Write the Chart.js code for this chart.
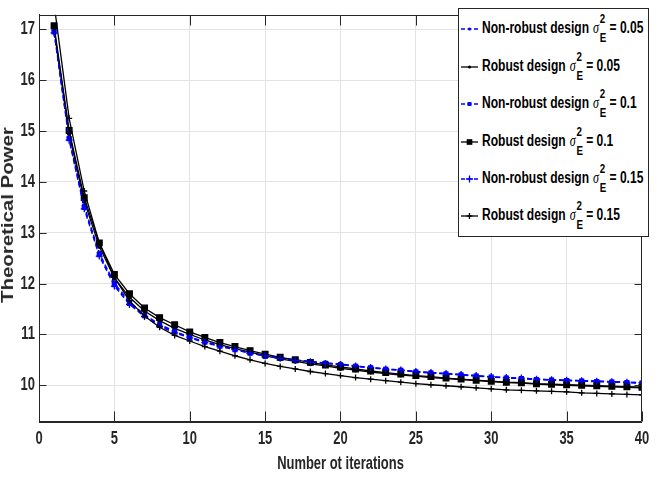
<!DOCTYPE html>
<html>
<head>
<meta charset="utf-8">
<script src="https://cdn.jsdelivr.net/npm/chart.js@4.4.1/dist/chart.umd.min.js"></script>
<style>
html,body{margin:0;padding:0;background:#fff;}
#wrap{position:relative;width:658px;height:478px;overflow:hidden;}
#c{position:absolute;left:0;top:0;}
.ytitle{position:absolute;left:8px;top:215px;transform:translate(-50%,-50%) rotate(-90deg) scaleX(1.28);
  font:bold 16px 'Liberation Sans',Arial,sans-serif;line-height:16px;white-space:nowrap;color:#262626;}
#legend{position:absolute;left:458px;top:8px;width:191px;height:229px;box-sizing:border-box;border:1px solid #262626;background:#fff;}
.row{position:absolute;left:2px;height:20px;width:400px;white-space:nowrap;}
.row svg{position:absolute;left:0;top:0;display:block;}
.txt{position:absolute;left:21px;top:0;height:20px;line-height:20px;transform-origin:0 50%;
  font:bold 16px 'Liberation Sans',Arial,sans-serif;color:#000;white-space:nowrap;}
.sig{font:italic 16px 'Liberation Serif',serif;margin-left:1px;}
.ss{display:inline-block;position:relative;width:10px;height:20px;vertical-align:top;}
.ss .sp{position:absolute;left:1px;top:-8px;font-size:13px;line-height:16px;}
.ss .sb{position:absolute;left:1px;top:11px;font-size:13px;line-height:16px;}
.eq{margin-left:4px;}
</style>
</head>
<body>
<div id="wrap">
  <canvas id="c" width="658" height="478"></canvas>
  <div class="ytitle" id="ytitle">Theoretical Power</div>
  <div id="legend"></div>
</div>
<script>
// ---- data ----
const iterations = [1,2,3,4,5,6,7,8,9,10,11,12,13,14,15,16,17,18,19,20,21,22,23,24,25,26,27,28,29,30,31,32,33,34,35,36,37,38,39,40];
const nonRobust005 = [16.97,14.87,13.53,12.60,12.01,11.64,11.39,11.20,11.06,10.95,10.86,10.78,10.71,10.64,10.58,10.54,10.50,10.47,10.44,10.42,10.38,10.35,10.32,10.30,10.27,10.25,10.23,10.21,10.19,10.16,10.15,10.14,10.12,10.11,10.10,10.09,10.08,10.07,10.06,10.05];
const robust005    = [17.02,14.95,13.62,12.73,12.11,11.73,11.46,11.27,11.12,11.00,10.89,10.80,10.72,10.65,10.58,10.52,10.47,10.42,10.38,10.33,10.30,10.26,10.23,10.20,10.18,10.15,10.13,10.11,10.09,10.07,10.05,10.04,10.02,10.01,10.00,9.99,9.98,9.97,9.96,9.95];
const nonRobust010 = [16.95,14.85,13.50,12.57,11.98,11.61,11.37,11.18,11.05,10.94,10.85,10.77,10.70,10.63,10.57,10.53,10.49,10.46,10.43,10.40,10.37,10.34,10.31,10.29,10.26,10.24,10.22,10.20,10.18,10.16,10.14,10.13,10.11,10.10,10.09,10.08,10.07,10.06,10.05,10.04];
const robust010    = [17.07,15.01,13.69,12.80,12.18,11.80,11.52,11.33,11.19,11.05,10.94,10.84,10.76,10.68,10.61,10.55,10.50,10.45,10.40,10.36,10.32,10.28,10.25,10.22,10.19,10.17,10.14,10.12,10.10,10.08,10.06,10.05,10.03,10.02,10.01,10.00,9.99,9.98,9.97,9.96];
const nonRobust015 = [16.93,14.82,13.47,12.54,11.95,11.59,11.35,11.16,11.03,10.93,10.84,10.76,10.70,10.63,10.58,10.53,10.49,10.46,10.43,10.41,10.38,10.35,10.32,10.30,10.27,10.25,10.23,10.21,10.19,10.17,10.15,10.14,10.12,10.11,10.10,10.09,10.08,10.07,10.06,10.05];
const robust015    = [17.50,15.25,13.82,12.80,12.12,11.66,11.36,11.14,10.98,10.87,10.76,10.67,10.58,10.50,10.43,10.37,10.32,10.27,10.23,10.19,10.15,10.12,10.09,10.06,10.03,10.01,9.99,9.97,9.95,9.93,9.91,9.90,9.89,9.88,9.87,9.85,9.84,9.83,9.82,9.81];

const seriesNames  = ['Non-robust design','Robust design','Non-robust design','Robust design','Non-robust design','Robust design'];
const sigmaValues  = ['0.05','0.05','0.1','0.1','0.15','0.15'];
const xTicks = [0,5,10,15,20,25,30,35,40];
const yTicks = [10,11,12,13,14,15,16,17];
const xTitle = 'Number ot iterations';

// ---- styles ----
const BLUE = '#0000ff', BLACK = '#000000';
const styles = [
  {color:BLUE,  dash:[5,3], point:'circle', r:1.8},
  {color:BLACK, dash:[],    point:'circle', r:1.8},
  {color:BLUE,  dash:[5,3], point:'rect',   r:2.8},
  {color:BLACK, dash:[],    point:'rect',   r:4},
  {color:BLUE,  dash:[5,3], point:'cross',  r:3.5},
  {color:BLACK, dash:[],    point:'cross',  r:3}
];
const seriesData = [nonRobust005, robust005, nonRobust010, robust010, nonRobust015, robust015];

const datasets = seriesData.map((vals, i) => ({
  label: seriesNames[i] + ' σE2 = ' + sigmaValues[i],
  data: iterations.map((it, k) => ({x: it, y: vals[k]})),
  borderColor: styles[i].color,
  backgroundColor: styles[i].color,
  borderWidth: 1.3,
  borderDash: styles[i].dash,
  pointStyle: styles[i].point,
  pointRadius: styles[i].r,
  pointBorderWidth: 1.3,
  pointBorderColor: styles[i].color,
  pointBackgroundColor: styles[i].color,
  tension: 0,
  order: -i
}));

const FONT = "'Liberation Sans',Arial,sans-serif";
const AX = '#262626';

// condensed text rendering (the reference uses a narrow face)
const canvas = document.getElementById('c');
const ctx2d = canvas.getContext('2d');
const SX = 0.72;
const origFill = ctx2d.fillText.bind(ctx2d);
ctx2d.fillText = function (t, x, y, mw) {
  this.save();
  this.translate(x, y);
  this.scale(SX, 1);
  if (mw === undefined) origFill(t, 0, 0); else origFill(t, 0, 0, mw / SX);
  this.restore();
};

const boxPlugin = {
  id: 'boxTicks',
  afterDatasetsDraw(chart) {
    const {ctx, chartArea: {left, right, top, bottom}, scales: {x, y}} = chart;
    ctx.save();
    ctx.strokeStyle = AX;
    ctx.lineWidth = 1;
    ctx.setLineDash([]);
    ctx.beginPath();
    const L = Math.round(left) + 0.5, R = Math.round(right) - 0.5, T = Math.round(top) + 0.5, B = Math.round(bottom) - 0.5;
    ctx.moveTo(L, T); ctx.lineTo(R, T); ctx.lineTo(R, B); ctx.lineTo(L, B); ctx.closePath();
    xTicks.forEach(v => {
      const px = Math.round(x.getPixelForValue(v)) + 0.5;
      ctx.moveTo(px, B); ctx.lineTo(px, B - 10);
      ctx.moveTo(px, T); ctx.lineTo(px, T + 10);
    });
    yTicks.forEach(v => {
      const py = Math.round(y.getPixelForValue(v)) + 0.5;
      ctx.moveTo(L, py); ctx.lineTo(L + 7, py);
      ctx.moveTo(R, py); ctx.lineTo(R - 7, py);
    });
    ctx.stroke();
    ctx.restore();
  }
};

new Chart(canvas, {
  type: 'line',
  data: { datasets },
  options: {
    responsive: false,
    animation: false,
    events: [],
    layout: { padding: { left: 0, right: 6, top: 4, bottom: 0 } },
    plugins: { legend: { display: false }, tooltip: { enabled: false } },
    scales: {
      x: {
        type: 'linear', min: 0, max: 40,
        afterBuildTicks: s => { s.ticks = xTicks.map(v => ({value: v})); },
        afterFit: s => { s.height = 56; },
        ticks: { color: AX, padding: 6, autoSkip: false, font: { family: FONT, size: 18, weight: 'bold' }, maxRotation: 0 },
        grid: { color: '#e3e3e3', lineWidth: 1, drawTicks: false },
        border: { color: AX, width: 1 },
        title: { display: true, text: xTitle, color: AX, padding: { top: 0, bottom: 3 },
                 font: { family: FONT, size: 18, weight: 'bold' } }
      },
      y: {
        type: 'linear', min: 9.277, max: 17.286,
        afterBuildTicks: s => { s.ticks = yTicks.map(v => ({value: v})); },
        afterFit: s => { s.width = 39; },
        ticks: { color: AX, padding: 4, font: { family: FONT, size: 18, weight: 'bold' } },
        grid: { color: '#e3e3e3', lineWidth: 1, drawTicks: false },
        border: { color: AX, width: 1 }
      }
    }
  },
  plugins: [boxPlugin]
});

// ---- legend (HTML text) ----
const legend = document.getElementById('legend');
const texts = [];
seriesNames.forEach((name, i) => {
  const st = styles[i];
  const row = document.createElement('div');
  row.className = 'row';
  row.style.top = (10.3 + 37.4 * i) + 'px';
  let marker = '';
  if (st.point === 'circle') marker = `<circle cx="8.5" cy="10" r="1.6" fill="${st.color}"/>`;
  else if (st.point === 'rect') { const h = st.r * Math.SQRT1_2; marker = `<rect x="${8.5-h}" y="${10-h}" width="${2*h}" height="${2*h}" fill="${st.color}"/>`; }
  else marker = `<path d="M${8.5-st.r} 10H${8.5+st.r}M8.5 ${10-st.r}V${10+st.r}" stroke="${st.color}" stroke-width="1.3"/>`;
  const dash = st.dash.length ? 'stroke-dasharray="4 2.5"' : '';
  row.innerHTML = `<svg width="17" height="20"><line x1="0" y1="10" x2="17" y2="10" stroke="${st.color}" stroke-width="1.3" ${dash}/>${marker}</svg>` +
    `<span class="txt">${name} <span class="sig">σ</span><span class="ss"><span class="sp">2</span><span class="sb">E</span></span><span class="eq">= ${sigmaValues[i]}</span></span>`;
  legend.appendChild(row);
  texts.push(row.querySelector('.txt'));
});
// condense legend text so the longest entry spans the same width as in the reference
const natural = texts[0].offsetWidth;
const legendScale = 161 / natural;
texts.forEach(t => { t.style.transform = `scaleX(${legendScale})`; });
// stretch the y title to its reference length
const yt = document.getElementById('ytitle');
const ytScale = 176 / yt.offsetWidth;
yt.style.transform = `translate(-50%,-50%) rotate(-90deg) scaleX(${ytScale})`;
</script>
</body>
</html>
